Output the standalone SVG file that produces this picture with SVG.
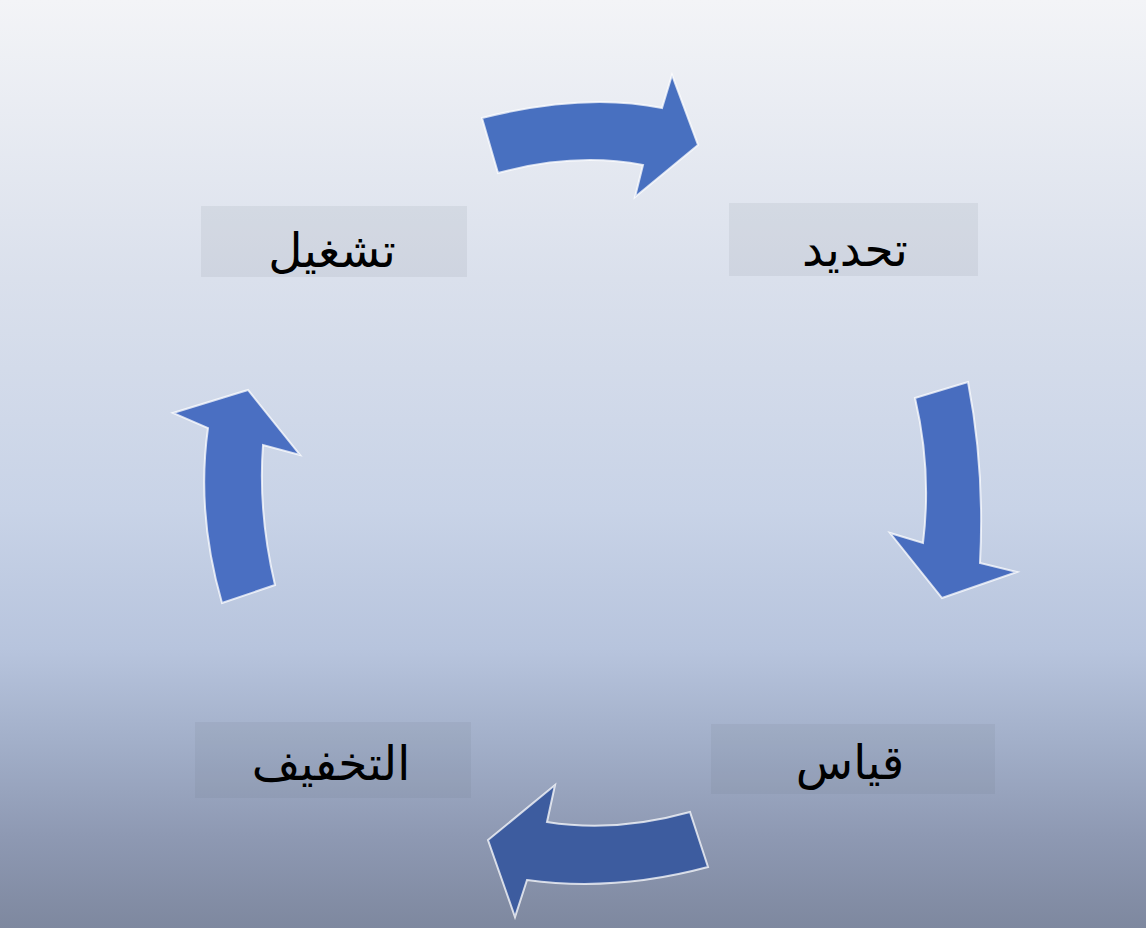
<svg xmlns="http://www.w3.org/2000/svg" width="1146" height="928" viewBox="0 0 1146 928">
<defs>
<linearGradient id="bg" x1="0" y1="0" x2="0" y2="1">
<stop offset="0" stop-color="#f3f4f7"/>
<stop offset="0.3" stop-color="#dae0ec"/>
<stop offset="0.55" stop-color="#c8d3e7"/>
<stop offset="0.7" stop-color="#b7c4dd"/>
<stop offset="0.8" stop-color="#a2afc9"/>
<stop offset="0.9" stop-color="#8e99b3"/>
<stop offset="1" stop-color="#7e889f"/>
</linearGradient>
<style>
.arrow{stroke:#ffffff;stroke-opacity:0.75;stroke-width:2;stroke-linejoin:miter}
.box{fill:#5a6070;fill-opacity:0.09}
.label{font-family:"DejaVu Sans","Noto Sans",sans-serif;font-size:47px;fill:#000;text-anchor:middle}
</style>
</defs>
<rect width="1146" height="928" fill="url(#bg)"/>
<g id="connectors">
<path class="arrow" fill="#4870c0" d="M482,118 Q585,92 662,108 L672,75 L698,145 L635,197 L643,165 Q575,152 498,173 Z"/>
<path class="arrow" fill="#486dbf" d="M915,398 L968,382 Q985,470 980,563 L1017,572 L942,598 L890,533 L923,543 Q932,470 915,398 Z"/>
<path class="arrow" fill="#3d5c9f" d="M690,812 Q615,833 547,822 L555,785 L488,840 L515,917 L527,880 Q615,892 708,867 Z"/>
<path class="arrow" fill="#4a6fc2" d="M222,603 L275,585 Q258,513 263,445 L300,455 L248,390 L173,413 L208,428 Q196,513 222,603 Z"/>
</g>
<g id="node-tashghil">
<rect class="box" x="201" y="206" width="266" height="71"/>
<text class="label" x="332" y="267">تشغيل</text>
</g>
<g id="node-tahdid">
<rect class="box" x="729" y="203" width="249" height="73"/>
<text class="label" x="855" y="266">تحديد</text>
</g>
<g id="node-qiyas">
<rect class="box" x="711" y="724" width="284" height="70"/>
<text class="label" x="850" y="779">قياس</text>
</g>
<g id="node-takhfif">
<rect class="box" x="195" y="722" width="276" height="76"/>
<text class="label" x="331" y="780">التخفيف</text>
</g>
</svg>
